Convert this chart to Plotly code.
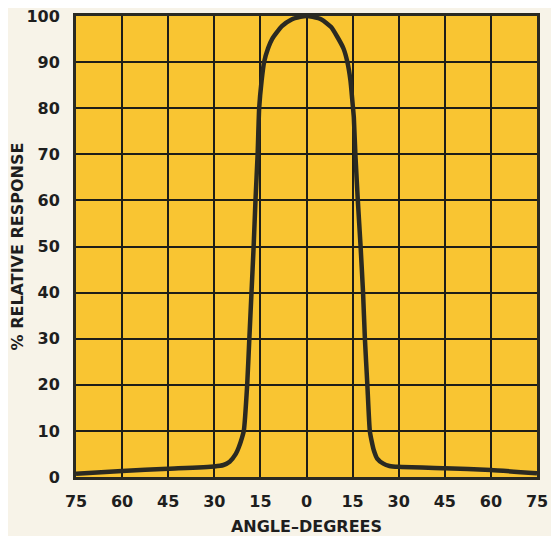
import plotly.graph_objects as go

# Data
angle = [-75, -60, -45, -30, -27, -25, -23, -22, -21, -20.4, -19.3, -18.6, -17.9,
         -17.2, -16.6, -15.9, -15.4, -14.6, -13.8, -12.5, -11.2, -8, -5, -2, 0,
         2, 5, 8, 10, 12, 13.3, 14.3, 15.0, 15.4, 15.9, 16.7, 17.6, 18.4, 19.0,
         19.8, 20.6, 21.3, 21.9, 23, 25, 27, 30, 45, 60, 75]
response = [0.7, 1.3, 1.8, 2.3, 2.6, 3.3, 5, 6.5, 8.5, 10, 20, 30, 40,
            50, 60, 70, 80, 86, 90, 93, 95, 97.8, 99.2, 99.8, 100,
            99.8, 99.2, 97.6, 95.5, 93, 90, 86, 81, 78, 70, 60, 50, 40, 30,
            20, 10, 7.5, 5.8, 4, 2.9, 2.4, 2.2, 1.9, 1.5, 0.8]

x_tickvals = [-75, -60, -45, -30, -15, 0, 15, 30, 45, 60, 75]
x_ticktext = ["75", "60", "45", "30", "15", "0", "15", "30", "45", "60", "75"]
y_tickvals = [0, 10, 20, 30, 40, 50, 60, 70, 80, 90, 100]

YELLOW = "#F9C532"
PAPER = "#F7F3E8"
INK = "#2A2A22"
TXT = "#1E1E1E"
FONT = "DejaVu Sans"

fig = go.Figure()
fig.add_trace(go.Scatter(
    x=angle, y=response, mode="lines",
    line=dict(color=INK, width=4.5, shape="spline", smoothing=0.5),
    hoverinfo="skip", showlegend=False, cliponaxis=True,
))

# page body has an 8px margin, so the figure is offset by 8px
fig.update_layout(
    width=551, height=528,
    margin=dict(l=68, r=22, t=8, b=59, autoexpand=False),
    paper_bgcolor=PAPER, plot_bgcolor=YELLOW,
    font=dict(family=FONT, color=TXT, size=16, weight="bold"),
)
fig.update_xaxes(
    range=[-75, 75], tickvals=x_tickvals, ticktext=x_ticktext,
    showgrid=True, gridcolor="#1E1E18", gridwidth=1.6,
    showline=True, linecolor=INK, linewidth=3, mirror=True,
    zeroline=False, ticks="", ticklabelstandoff=8, automargin=False,
    ticklabeloverflow="allow",
    tickfont=dict(family=FONT, size=16, weight="bold", color=TXT),
    title=dict(text="ANGLE\u2013DEGREES", standoff=12,
               font=dict(family=FONT, size=16, weight="bold", color=TXT)),
)
fig.update_yaxes(
    range=[0, 100], tickvals=y_tickvals,
    showgrid=True, gridcolor="#1E1E18", gridwidth=1.6,
    showline=True, linecolor=INK, linewidth=3, mirror=True,
    zeroline=False, ticks="", ticklabelstandoff=10, automargin=False,
    ticklabeloverflow="allow",
    tickfont=dict(family=FONT, size=16, weight="bold", color=TXT),
    title=dict(text="% RELATIVE RESPONSE", standoff=14,
               font=dict(family=FONT, size=16, weight="bold", color=TXT)),
)

fig.write_html("out.html", config={"displayModeBar": False})
